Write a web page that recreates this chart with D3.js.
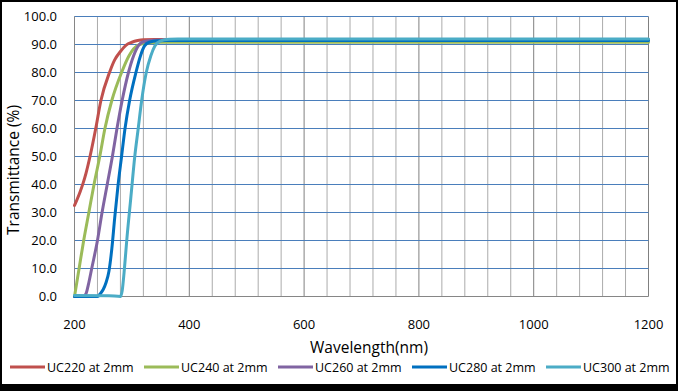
<!DOCTYPE html>
<html>
<head>
<meta charset="utf-8">
<script src="https://cdn.jsdelivr.net/npm/d3@7"></script>
<style>
  html, body { margin: 0; padding: 0; background: #000; }
  svg { display: block; }
  text { font-family: "Open Sans", "Noto Sans", sans-serif; fill: #000; }
</style>
</head>
<body>
<svg id="chart" width="678" height="391"></svg>
<script>
// ---- Data ----
const seriesNames = ["UC220 at 2mm", "UC240 at 2mm", "UC260 at 2mm", "UC280 at 2mm", "UC300 at 2mm"];
const seriesColors = ["#C0504D", "#9BBB59", "#8064A2", "#0070C0", "#4BACC6"];

const uc220_wl = [200, 210, 215, 220, 227, 237, 246, 261, 270, 280, 290, 300, 310, 320, 340, 360, 1200];
const uc220_t  = [32.5, 37.5, 40.5, 44, 50, 60, 70, 80, 84.5, 87.5, 89.8, 90.8, 91.4, 91.7, 91.8, 91.8, 91.8];

const uc240_wl = [200, 208, 216, 225, 234, 244, 253, 265, 282, 295, 311, 330, 350, 1200];
const uc240_t  = [0, 10, 20, 30, 40, 50, 60, 70, 80, 86, 89.8, 90.6, 90.8, 90.8];

const uc260_wl = [200, 215, 220, 225, 230, 240, 248, 257, 266, 274, 283, 294, 303, 312, 320, 340, 360, 1200];
const uc260_t  = [0, 0, 1, 5, 10, 20, 30, 40, 50, 60, 70, 80, 86, 89.8, 91, 91.5, 91.6, 91.6];

const uc280_wl = [200, 240, 245, 250, 255, 260, 265, 270, 276, 282, 288, 296, 307, 315, 322, 330, 345, 360, 1200];
const uc280_t  = [0, 0, 1, 2.5, 5, 9, 17, 28, 40, 50, 60, 70, 80, 86, 89.5, 90.8, 91.3, 91.4, 91.4];

const uc300_wl = [200, 260, 280, 283, 287, 291, 298, 305, 311, 317, 325, 333, 340, 350, 365, 380, 1200];
const uc300_t  = [0.4, 0.3, 0, 2, 10, 20, 35, 50, 60, 70, 80, 86, 89.5, 91.3, 91.9, 92, 92];

const xTicks = [200, 400, 600, 800, 1000, 1200];
const xMinorTicks = d3.range(200, 1201, 40);
const yTicks = [0, 10, 20, 30, 40, 50, 60, 70, 80, 90, 100];

const series = [
  {wl: uc220_wl, t: uc220_t},
  {wl: uc240_wl, t: uc240_t},
  {wl: uc260_wl, t: uc260_t},
  {wl: uc280_wl, t: uc280_t},
  {wl: uc300_wl, t: uc300_t}
];

// ---- Chart ----
const svg = d3.select("#chart");
svg.append("rect").attr("x", 0).attr("y", 0).attr("width", 678).attr("height", 391).attr("fill", "#000");
svg.append("rect").attr("x", 2).attr("y", 2).attr("width", 674).attr("height", 382).attr("fill", "#fff");

const x = d3.scaleLinear().domain([200, 1200]).range([74.5, 648.5]);
const y = d3.scaleLinear().domain([0, 100]).range([296.5, 16.5]);

// vertical gridlines
svg.append("g").selectAll("line").data(xMinorTicks).join("line")
  .attr("x1", d => x(d)).attr("x2", d => x(d))
  .attr("y1", y(100)).attr("y2", y(0))
  .attr("stroke", d => (d % 200 === 0) ? "#808080" : "#ABABAB")
  .attr("stroke-width", 1);

// horizontal gridlines
svg.append("g").selectAll("line").data(yTicks.filter(d => d > 0)).join("line")
  .attr("x1", x(200)).attr("x2", x(1200))
  .attr("y1", d => y(d)).attr("y2", d => y(d))
  .attr("stroke", "#4A7EBB").attr("stroke-width", 1);

// axes lines
svg.append("line").attr("x1", x(200)).attr("x2", x(1200)).attr("y1", y(0)).attr("y2", y(0))
  .attr("stroke", "#868686").attr("stroke-width", 1);
svg.append("line").attr("x1", x(200)).attr("x2", x(200)).attr("y1", y(0)).attr("y2", y(100))
  .attr("stroke", "#868686").attr("stroke-width", 1);

// y tick labels
svg.append("g").selectAll("text").data(yTicks).join("text")
  .attr("x", 57).attr("y", d => y(d)).attr("dy", "0.35em")
  .attr("text-anchor", "end").attr("font-size", 13)
  .text(d => d3.format(".1f")(d));

// x tick labels
svg.append("g").selectAll("text").data(xTicks).join("text")
  .attr("x", d => x(d)).attr("y", 329)
  .attr("text-anchor", "middle").attr("font-size", 13)
  .text(d => d);

// axis titles
svg.append("text").attr("x", 369).attr("y", 353).attr("text-anchor", "middle")
  .attr("font-size", 15.5).text("Wavelength(nm)");
svg.append("text").attr("transform", "translate(19,170) rotate(-90)").attr("text-anchor", "middle")
  .attr("font-size", 15.5).text("Transmittance (%)");

// lines
const line = d3.line().x(d => x(d[0])).y(d => y(d[1])).curve(d3.curveMonotoneX);
series.forEach((s, i) => {
  const pts = s.wl.map((w, j) => [w, s.t[j]]);
  svg.append("path").datum(pts).attr("d", line)
    .attr("fill", "none").attr("stroke", seriesColors[i]).attr("stroke-width", 3)
    .attr("stroke-linejoin", "round").attr("stroke-linecap", "round");
});

// legend
const lg = svg.append("g");
seriesNames.forEach((name, i) => {
  const lx = 10 + i * 134;
  lg.append("line").attr("x1", lx).attr("x2", lx + 35).attr("y1", 367).attr("y2", 367)
    .attr("stroke", seriesColors[i]).attr("stroke-width", 3);
  lg.append("text").attr("x", lx + 37).attr("y", 371.5).attr("font-size", 12.5).text(name);
});
</script>
</body>
</html>
